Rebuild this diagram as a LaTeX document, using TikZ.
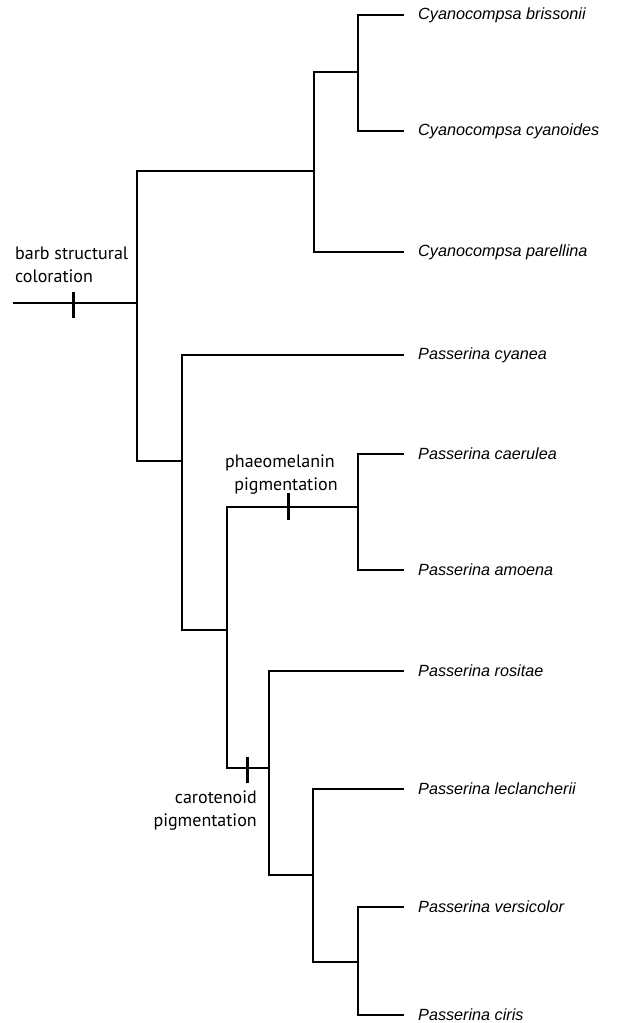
\documentclass[tikz,border=0pt]{standalone}
\usepackage{fontspec}
\setmainfont{Liberation Sans}
\newfontfamily\annfont{PT Sans}
\begin{document}
\begin{tikzpicture}[x=1pt,y=-1pt,
  br/.style={line width=1.5pt, line cap=rect, line join=miter},
  tickmark/.style={line width=3pt},
  leaf/.style={anchor=west, inner xsep=15pt, inner ysep=0pt, font=\fontsize{16.2}{19}\selectfont\itshape},
  ann/.style={inner sep=0pt, font=\annfont\fontsize{18}{23}\selectfont}]
\useasboundingbox (0,0) rectangle (623,1023);
% leaves
\node[leaf] (brisson) at (403,15) {Cyanocompsa brissonii};
\node[leaf] (cyanoid) at (403,131) {Cyanocompsa cyanoides};
\node[leaf] (parell) at (403,252) {Cyanocompsa parellina};
\node[leaf] (cyanea) at (403,355) {Passerina cyanea};
\node[leaf] (caerul) at (403,454) {Passerina caerulea};
\node[leaf] (amoena) at (403,570) {Passerina amoena};
\node[leaf] (rositae) at (403,671) {Passerina rositae};
\node[leaf] (leclan) at (403,789) {Passerina leclancherii};
\node[leaf] (versic) at (403,907) {Passerina versicolor};
\node[leaf] (ciris) at (403,1015) {Passerina ciris};
% internal nodes
\coordinate (base) at (14,303);
\coordinate (root) at (137,303);
\coordinate (ncy) at (314,171);
\coordinate (nbc) at (358,72);
\coordinate (npa) at (182,461);
\coordinate (npc) at (227,630);
\coordinate (nca) at (358,507);
\coordinate (ncar) at (269,768);
\coordinate (nlvc) at (313,875);
\coordinate (nvc) at (358,962);
% branches
\draw[br] (base) -- (root);
\draw[br] (root) |- (ncy);
\draw[br] (root) |- (npa);
\draw[br] (ncy) |- (nbc);
\draw[br] (ncy) |- (parell);
\draw[br] (nbc) |- (brisson);
\draw[br] (nbc) |- (cyanoid);
\draw[br] (npa) |- (cyanea);
\draw[br] (npa) |- (npc);
\draw[br] (npc) |- (nca);
\draw[br] (npc) |- (ncar);
\draw[br] (nca) |- (caerul);
\draw[br] (nca) |- (amoena);
\draw[br] (ncar) |- (rositae);
\draw[br] (ncar) |- (nlvc);
\draw[br] (nlvc) |- (leclan);
\draw[br] (nlvc) |- (nvc);
\draw[br] (nvc) |- (versic);
\draw[br] (nvc) |- (ciris);
% character ticks
\draw[tickmark] (73,292) -- (73,318);
\draw[tickmark] (288,493) -- (288,520);
\draw[tickmark] (247,757) -- (247,783);
% annotations
\node[ann, anchor=north west, align=left] (barb) at (15,247) {barb structural\\coloration};
\node[ann, anchor=north, align=center] (phaeo) at (280,455) {phaeomelanin\\\hspace*{12pt}pigmentation};
\node[ann, anchor=north east, align=right] (carot) at (257,791) {carotenoid\\pigmentation};
\end{tikzpicture}
\end{document}
